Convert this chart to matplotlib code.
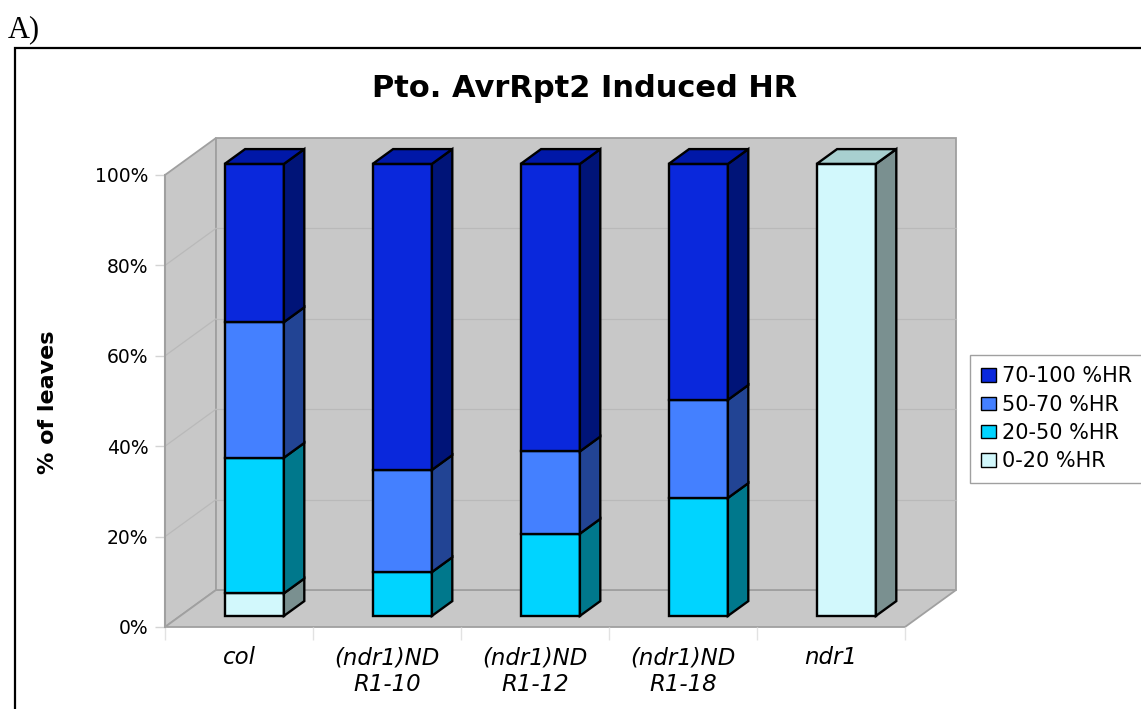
import numpy as np
import matplotlib.pyplot as plt
from matplotlib.patches import Polygon, Rectangle, Patch

categories = ["col", "(ndr1)ND\nR1-10", "(ndr1)ND\nR1-12", "(ndr1)ND\nR1-18", "ndr1"]
series_names = ["0-20 %HR", "20-50 %HR", "50-70 %HR", "70-100 %HR"]
hr_0_20 = [5.0, 0.0, 0.0, 0.0, 100.0]
hr_20_50 = [30.0, 9.7, 18.2, 26.1, 0.0]
hr_50_70 = [30.0, 22.6, 18.2, 21.7, 0.0]
hr_70_100 = [35.0, 67.7, 63.6, 52.2, 0.0]

# front, side, top colours per series
front_cols = ["#d2f8fc", "#00d4ff", "#4480ff", "#0a28dc"]
side_cols = ["#7a9090", "#00788c", "#224494", "#001478"]
top_cols = ["#a8d0d0", "#00a8c8", "#3366cc", "#0018a8"]

W, H = 1141, 709
fig = plt.figure(figsize=(W / 100, H / 100), dpi=100)
ax = fig.add_axes([165 / W, 1 - 627 / H, 740 / W, 452 / H])
ax.set_xlim(0, 5)
ax.set_ylim(0, 100)

# depth of the 3d box in data units
dx = 51 / 148
dy = 37 / 4.52
wall = "#c8c8c8"
edge = "#a0a0a0"
n = len(categories)

def poly(pts, fc, ec, lw, z):
    p = Polygon(pts, closed=True, facecolor=fc, edgecolor=ec, linewidth=lw,
                clip_on=False, zorder=z, joinstyle="miter")
    ax.add_patch(p)

# walls and floor
poly([(0, 0), (0, 100), (dx, 100 + dy), (dx, dy)], wall, edge, 1.3, 1)
poly([(0, 0), (n, 0), (n + dx, dy), (dx, dy)], wall, edge, 1.3, 1)
poly([(dx, dy), (n + dx, dy), (n + dx, 100 + dy), (dx, 100 + dy)], wall, edge, 1.3, 1)
for v in [20, 40, 60, 80]:
    ax.plot([dx, n + dx], [v + dy, v + dy], color="#b9b9b9", lw=0.9, zorder=2, clip_on=False)
    ax.plot([0, dx], [v, v + dy], color="#b9b9b9", lw=0.9, zorder=2, clip_on=False)
ax.plot([0, 0], [0, 100], color=edge, lw=1.5, zorder=2, clip_on=False)

# stacked 3d bars
d0, bd, bw = 0.3, 0.4, 0.4
series = [hr_0_20, hr_20_50, hr_50_70, hr_70_100]
for i in range(n):
    c = i + 0.5 + d0 * dx
    base = 0.0
    last = max(k for k in range(4) if series[k][i] > 0)
    for k in range(4):
        h = series[k][i]
        if h <= 0:
            continue
        y0 = base + d0 * dy
        y1 = base + h + d0 * dy
        xl, xr = c - bw / 2, c + bw / 2
        poly([(xl, y0), (xr, y0), (xr, y1), (xl, y1)], front_cols[k], "black", 1.7, 5)
        poly([(xr, y0), (xr + bd * dx, y0 + bd * dy), (xr + bd * dx, y1 + bd * dy), (xr, y1)],
             side_cols[k], "black", 1.7, 5)
        if k == last:
            poly([(xl, y1), (xr, y1), (xr + bd * dx, y1 + bd * dy), (xl + bd * dx, y1 + bd * dy)],
                 top_cols[k], "black", 1.7, 5)
        base += h

for s in ax.spines.values():
    s.set_visible(False)
ax.set_facecolor("none")
ax.set_yticks([0, 20, 40, 60, 80, 100])
ax.set_yticklabels(["0%", "20%", "40%", "60%", "80%", "100%"])
ax.tick_params(axis="y", length=7, width=1, color="#d4d4d4", pad=5, labelsize=13.5)
ax.set_xticks(np.arange(n + 1))
ax.set_xticklabels([])
ax.set_xticks(np.arange(n) + 0.5, minor=True)
ax.set_xticklabels(categories, minor=True, fontstyle="italic", fontsize=16.5)
ax.tick_params(axis="x", which="major", length=9, width=1, color="#e2e2e2")
ax.tick_params(axis="x", which="minor", length=0, pad=14)

fig.text(585 / W, 1 - 97 / H, "Pto. AvrRpt2 Induced HR", ha="center", va="baseline",
         fontsize=22, fontweight="bold")
fig.text(48 / W, 1 - 402 / H, "% of leaves", rotation=90, ha="center", va="center",
         fontsize=16, fontweight="bold")
fig.text(8 / W, 1 - 37 / H, "A)", family="Liberation Serif", fontsize=22, va="baseline")

fig.patches.append(Rectangle((15 / W, -0.1), 1.2, 1.1 - 48 / H, transform=fig.transFigure,
                             fill=False, edgecolor="black", linewidth=1.6))

handles = [Patch(facecolor=front_cols[k], edgecolor="black", linewidth=1) for k in [3, 2, 1, 0]]
labels = [series_names[k] for k in [3, 2, 1, 0]]
fig.legend(handles, labels, loc="upper left", bbox_to_anchor=(970 / W, 1 - 355 / H),
           fontsize=15, frameon=True, fancybox=False, edgecolor=edge, framealpha=1,
           borderaxespad=0, handlelength=0.7, handleheight=0.6, handletextpad=0.3,
           labelspacing=0.4, borderpad=0.55)

fig.savefig("out.png", dpi=100)
